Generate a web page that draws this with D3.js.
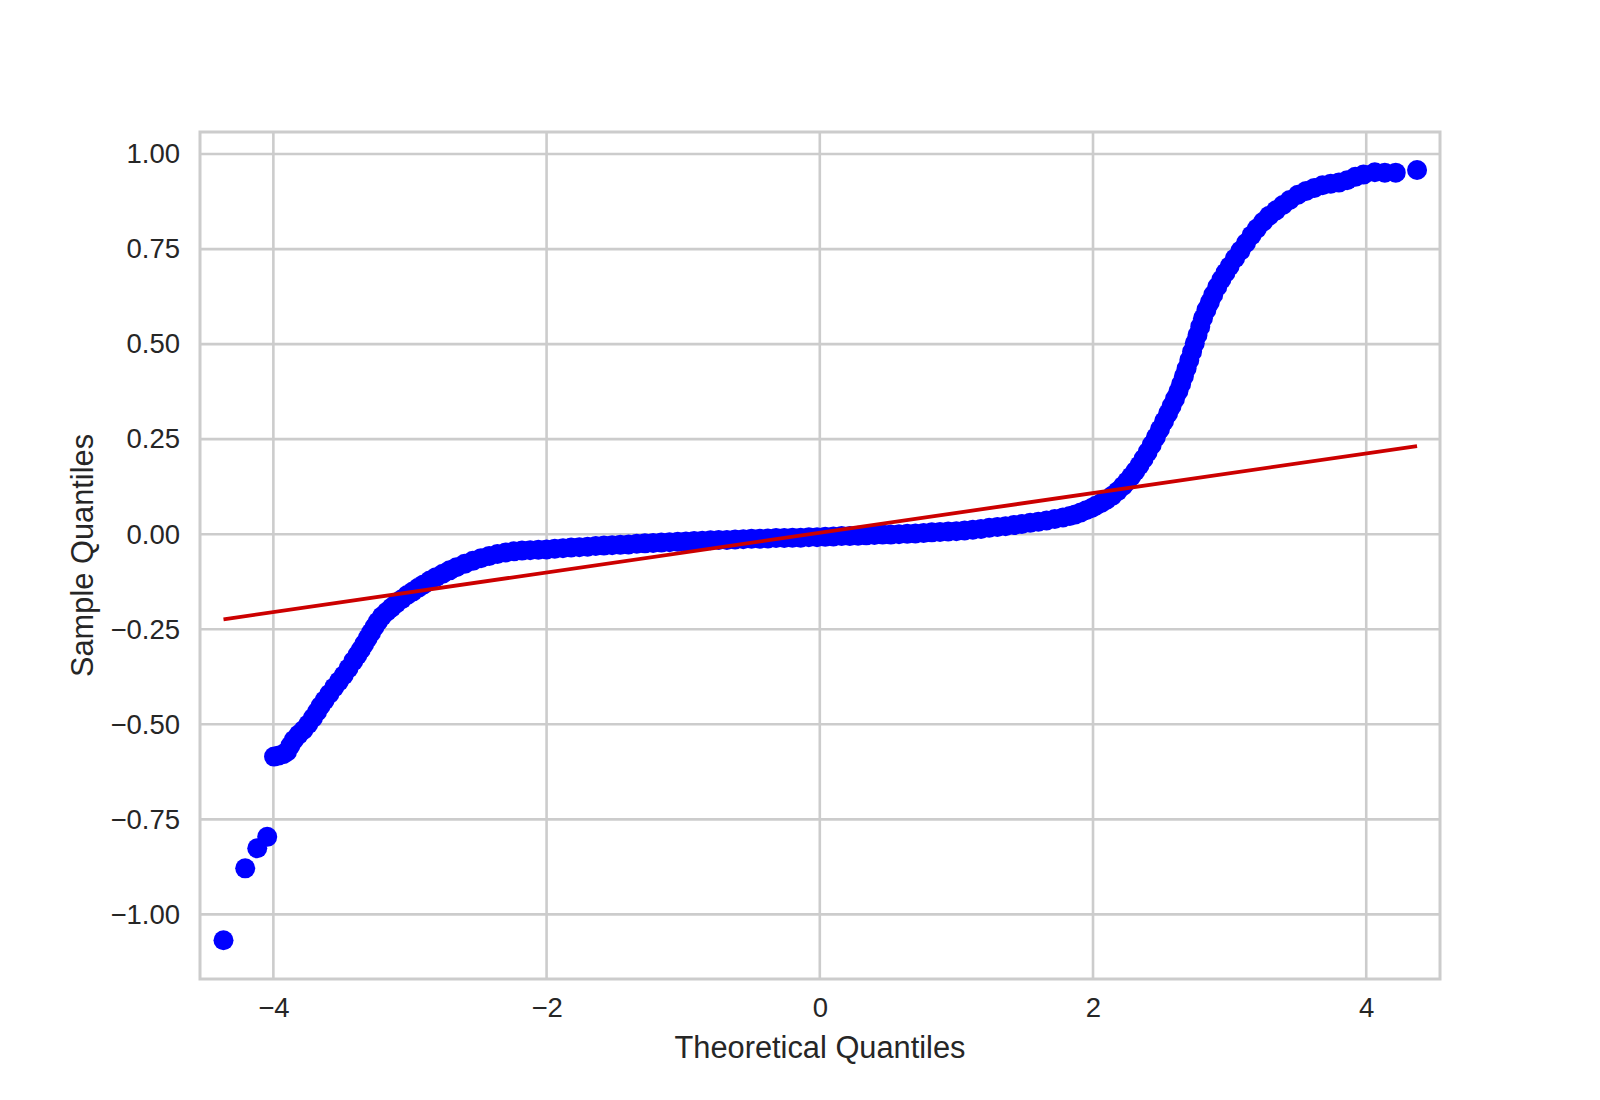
<!DOCTYPE html>
<html>
<head>
<meta charset="utf-8">
<script src="https://cdn.jsdelivr.net/npm/d3@7"></script>
<style>
  html, body { margin: 0; padding: 0; background: #ffffff; }
  svg { display: block; }
  text { font-family: "Liberation Sans", Arial, "DejaVu Sans", sans-serif; }
</style>
</head>
<body>
<svg id="chart" width="1600" height="1100"></svg>
<script>
// ---- data ----
const xTickValues = [-4, -2, 0, 2, 4];
const yTickValues = [-1.00, -0.75, -0.50, -0.25, 0.00, 0.25, 0.50, 0.75, 1.00];
const xLabel = "Theoretical Quantiles";
const yLabel = "Sample Quantiles";

// theoretical quantiles (x) and sample quantiles (y) of the plotted points
const theoretical = [
  -4.365, -4.206, -4.118, -4.045,
  -3.995, -3.960, -3.925, -3.900, -3.875, -3.850, -3.815, -3.780, -3.745, -3.710,
  -3.680, -3.655, -3.625, -3.590, -3.555, -3.520, -3.485, -3.450, -3.415, -3.385,
  -3.360, -3.335, -3.310, -3.285, -3.260, -3.235, -3.205, -3.170, -3.135, -3.100,
  -3.060, -3.020, -2.980, -2.940, -2.900, -2.855, -2.810, -2.760, -2.710, -2.660,
  -2.600, -2.540, -2.480, -2.420, -2.360, -2.300, -2.240, -2.180, -2.120, -2.060,
  -2.00, -1.94, -1.88, -1.82, -1.76, -1.70, -1.64, -1.58, -1.52, -1.46, -1.40,
  -1.34, -1.28, -1.22, -1.16, -1.10, -1.04, -0.98, -0.92, -0.86, -0.80, -0.74,
  -0.68, -0.62, -0.56, -0.50, -0.44, -0.38, -0.32, -0.26, -0.20, -0.14, -0.08,
  -0.02, 0.04, 0.10, 0.16, 0.22, 0.28, 0.34, 0.40, 0.46, 0.52, 0.58, 0.64, 0.70,
  0.76, 0.82, 0.88, 0.94, 1.00, 1.06, 1.12, 1.18, 1.24, 1.30, 1.36, 1.42, 1.48,
  1.54, 1.60, 1.66, 1.72, 1.78, 1.83, 1.87, 1.91, 1.95, 1.99,
  2.02, 2.06, 2.10, 2.14, 2.18, 2.22, 2.25, 2.28, 2.31, 2.34, 2.37, 2.40, 2.43,
  2.46, 2.49, 2.52, 2.55, 2.575, 2.60, 2.625, 2.645, 2.665, 2.685, 2.705, 2.725,
  2.745, 2.765, 2.785, 2.805, 2.83, 2.855, 2.88, 2.91, 2.94, 2.97, 3.00, 3.04,
  3.08, 3.12, 3.16, 3.20, 3.245, 3.29, 3.34, 3.39, 3.44, 3.50, 3.56, 3.62, 3.68,
  3.74, 3.80, 3.86, 3.92, 3.98, 4.063, 4.136, 4.216, 4.372
];
const sample = [
  -1.068, -0.879, -0.826, -0.796,
  -0.585, -0.582, -0.578, -0.572, -0.556, -0.541, -0.527, -0.515, -0.500, -0.483,
  -0.467, -0.452, -0.437, -0.420, -0.403, -0.387, -0.371, -0.353, -0.334, -0.318,
  -0.304, -0.289, -0.274, -0.259, -0.244, -0.230, -0.216, -0.204, -0.193, -0.182,
  -0.171, -0.160, -0.151, -0.141, -0.132, -0.122, -0.113, -0.104, -0.095, -0.087,
  -0.078, -0.070, -0.063, -0.057, -0.052, -0.048, -0.045, -0.043, -0.042, -0.041,
  -0.040, -0.038, -0.037, -0.035, -0.034, -0.033, -0.031, -0.030, -0.029, -0.028, -0.027,
  -0.025, -0.024, -0.023, -0.022, -0.021, -0.020, -0.019, -0.018, -0.017, -0.016, -0.015,
  -0.015, -0.014, -0.013, -0.012, -0.012, -0.011, -0.010, -0.010, -0.009, -0.009, -0.008,
  -0.008, -0.007, -0.006, -0.005, -0.005, -0.004, -0.003, -0.002, -0.001, -0.001, 0.000, 0.001, 0.002,
  0.003, 0.005, 0.006, 0.007, 0.008, 0.010, 0.012, 0.014, 0.017, 0.019, 0.021, 0.024, 0.027,
  0.030, 0.033, 0.036, 0.040, 0.044, 0.048, 0.052, 0.057, 0.063, 0.069,
  0.075, 0.082, 0.091, 0.101, 0.113, 0.127, 0.139, 0.152, 0.166, 0.181, 0.198, 0.216, 0.235,
  0.255, 0.276, 0.297, 0.318, 0.337, 0.356, 0.376, 0.395, 0.415, 0.436, 0.458, 0.480,
  0.502, 0.524, 0.546, 0.568, 0.590, 0.610, 0.630, 0.651, 0.670, 0.688, 0.705, 0.726,
  0.746, 0.766, 0.786, 0.804, 0.822, 0.838, 0.852, 0.866, 0.879, 0.893, 0.903, 0.911, 0.918,
  0.922, 0.925, 0.931, 0.940, 0.946, 0.952, 0.951, 0.951, 0.958
];

// fitted regression line endpoints
const fitX = [-4.365, 4.372];
const fitY = [-0.224, 0.232];

// ---- layout ----
const W = 1600, H = 1100;
const plot = { left: 200, right: 1440, top: 132, bottom: 979 };

const svg = d3.select("#chart");
svg.append("rect").attr("width", W).attr("height", H).attr("fill", "#ffffff");

const x = d3.scaleLinear().domain([-4.537, 4.540]).range([plot.left, plot.right]);
const y = d3.scaleLinear().domain([-1.170, 1.058]).range([plot.bottom, plot.top]);

const gridColor = "#cccccc";
const textColor = "#262626";

// grid
const grid = svg.append("g");
grid.selectAll("line.vx").data(xTickValues).join("line")
  .attr("x1", d => x(d)).attr("x2", d => x(d))
  .attr("y1", plot.top).attr("y2", plot.bottom)
  .attr("stroke", gridColor).attr("stroke-width", 2.6);
grid.selectAll("line.hy").data(yTickValues).join("line")
  .attr("x1", plot.left).attr("x2", plot.right)
  .attr("y1", d => y(d)).attr("y2", d => y(d))
  .attr("stroke", gridColor).attr("stroke-width", 2.6);

// axes (tick labels)
const xAxis = d3.axisBottom(x).tickValues(xTickValues).tickSize(0).tickPadding(18)
  .tickFormat(d3.format("d"));
const yAxis = d3.axisLeft(y).tickValues(yTickValues).tickSize(0).tickPadding(20)
  .tickFormat(d3.format(".2f"));

const gx = svg.append("g").attr("transform", `translate(0,${plot.bottom})`).call(xAxis);
const gy = svg.append("g").attr("transform", `translate(${plot.left},0)`).call(yAxis);
[gx, gy].forEach(g => {
  g.select(".domain").remove();
  g.selectAll("text").attr("fill", textColor).style("font-size", "27.5px")
    .style("font-family", '"Liberation Sans", Arial, sans-serif');
});

// points
svg.append("g").selectAll("circle").data(theoretical.map((t, i) => [t, sample[i]])).join("circle")
  .attr("cx", d => x(d[0])).attr("cy", d => y(d[1])).attr("r", 10)
  .attr("fill", "#0000ff").attr("stroke", "none");

// fitted line
svg.append("path")
  .datum(fitX.map((t, i) => [t, fitY[i]]))
  .attr("d", d3.line().x(d => x(d[0])).y(d => y(d[1])))
  .attr("fill", "none").attr("stroke", "#cc0000").attr("stroke-width", 3.8);

// spines
svg.append("rect")
  .attr("x", plot.left).attr("y", plot.top)
  .attr("width", plot.right - plot.left).attr("height", plot.bottom - plot.top)
  .attr("fill", "none").attr("stroke", gridColor).attr("stroke-width", 3);

// axis labels
svg.append("text")
  .attr("x", (plot.left + plot.right) / 2).attr("y", 1058)
  .attr("text-anchor", "middle").attr("fill", textColor)
  .style("font-size", "30.8px").text(xLabel);
svg.append("text")
  .attr("transform", `translate(93,${(plot.top + plot.bottom) / 2}) rotate(-90)`)
  .attr("text-anchor", "middle").attr("fill", textColor)
  .style("font-size", "30.8px").text(yLabel);
</script>
</body>
</html>
